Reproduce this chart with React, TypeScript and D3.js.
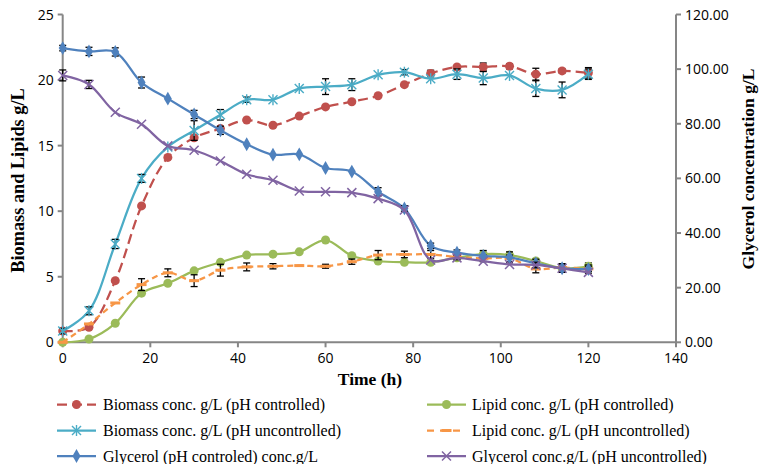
import React from "react";
import * as d3 from "d3";

const times = [0, 6, 12, 18, 24, 30, 36, 42, 48, 54, 60, 66, 72, 78, 84, 90, 96, 102, 108, 114, 120];

const biomassCtrl = [0.86, 1.15, 4.7, 10.4, 14.1, 15.6, 16.3, 16.95, 16.55, 17.25, 17.95, 18.35, 18.8, 19.65, 20.5, 21.0, 21.0, 21.05, 20.45, 20.7, 20.55];
const biomassCtrlErr = [0, 0, 0, 0, 0, 0, 0, 0, 0, 0, 0, 0, 0, 0, 0.25, 0, 0.3, 0.2, 0.45, 0.15, 0.4];

const lipidCtrl = [0, 0.25, 1.45, 3.75, 4.5, 5.45, 6.1, 6.65, 6.72, 6.9, 7.8, 6.6, 6.2, 6.1, 6.1, 6.45, 6.72, 6.65, 6.2, 5.65, 5.8];
const lipidCtrlErr = [0, 0, 0, 0, 0, 0, 0, 0, 0, 0, 0, 0, 0, 0, 0, 0, 0, 0, 0, 0, 0.25];

const biomassUnctrl = [0.86, 2.4, 7.5, 12.5, 14.9, 16.15, 17.35, 18.5, 18.5, 19.35, 19.5, 19.65, 20.4, 20.6, 20.1, 20.45, 20.15, 20.35, 19.35, 19.25, 20.45];
const biomassUnctrlErr = [0.2, 0.3, 0.35, 0.3, 0, 0.75, 0.4, 0.2, 0, 0, 0.6, 0.45, 0, 0.2, 0, 0.4, 0.5, 0, 0.6, 0.6, 0.4];

const lipidUnctrl = [0, 1.4, 3.0, 4.4, 5.3, 4.7, 5.5, 5.75, 5.8, 5.85, 5.8, 6.15, 6.65, 6.7, 6.7, 6.5, 6.4, 6.4, 5.6, 5.7, 5.6];
const lipidUnctrlErr = [0, 0, 0, 0.45, 0.3, 0.45, 0.45, 0.3, 0.2, 0, 0.15, 0.2, 0.35, 0.25, 0.3, 0.2, 0.25, 0.25, 0.3, 0.3, 0.2];

const glycerolCtrl = [107.7, 106.5, 106.3, 95.1, 89.2, 83.4, 77.6, 72.5, 68.7, 68.8, 63.8, 62.5, 55.1, 49.0, 35.3, 32.8, 31.6, 31.1, 28.9, 27.1, 26.8];
const glycerolCtrlErr = [1, 1.5, 1.5, 2, 0, 1.5, 1.5, 0, 0, 0, 0, 0, 1.5, 1, 1, 1, 2, 2, 1.5, 1.5, 1.5];

const glycerolUnctrl = [97.7, 94.4, 84.2, 79.8, 71.9, 70.3, 66.4, 61.5, 59.3, 55.4, 55.1, 54.8, 52.6, 48.4, 30.1, 30.9, 29.7, 28.5, 28.3, 27.1, 25.6];
const glycerolUnctrlErr = [2, 1.5, 0, 0, 0, 0, 0, 0, 0, 0, 0, 0, 0, 0, 0, 0, 0, 0, 1, 0, 0];

const xTicks = [0, 20, 40, 60, 80, 100, 120, 140];
const yLeftTicks = [0, 5, 10, 15, 20, 25];
const yRightTicks = [0, 20, 40, 60, 80, 100, 120];

const legendLabels = [
  "Biomass conc. g/L (pH controlled)",
  "Lipid conc. g/L (pH controlled)",
  "Biomass conc. g/L (pH uncontrolled)",
  "Lipid conc. g/L (pH uncontrolled)",
  "Glycerol (pH controled) conc.g/L",
  "Glycerol conc.g/L (pH uncontrolled)",
];

const AX = "#868686";
const left = 62.7, right = 676, top = 14.5, bottom = 342.3;

const x = d3.scaleLinear().domain([0, 140]).range([left, right]);
const yL = d3.scaleLinear().domain([0, 25]).range([bottom, top]);
const yR = d3.scaleLinear().domain([0, 120]).range([bottom, top]);

type Marker = "circle" | "diamond" | "star" | "x" | "dash";
interface Series { vals: number[]; err: number[]; color: string; dash?: string; marker: Marker; axis: "L" | "R"; label: string; }

const series: Series[] = [
  { vals: biomassCtrl, err: biomassCtrlErr, color: "#C0504D", dash: "10,5", marker: "circle", axis: "L", label: legendLabels[0] },
  { vals: lipidCtrl, err: lipidCtrlErr, color: "#9BBB59", marker: "circle", axis: "L", label: legendLabels[1] },
  { vals: biomassUnctrl, err: biomassUnctrlErr, color: "#4BACC6", marker: "star", axis: "L", label: legendLabels[2] },
  { vals: lipidUnctrl, err: lipidUnctrlErr, color: "#F79646", dash: "6,4", marker: "dash", axis: "L", label: legendLabels[3] },
  { vals: glycerolCtrl, err: glycerolCtrlErr, color: "#4F81BD", marker: "diamond", axis: "R", label: legendLabels[4] },
  { vals: glycerolUnctrl, err: glycerolUnctrlErr, color: "#8064A2", marker: "x", axis: "R", label: legendLabels[5] },
];

function MarkerShape({ m, cx, cy, color }: { m: Marker; cx: number; cy: number; color: string }) {
  if (m === "circle") return <circle cx={cx} cy={cy} r={4.5} fill={color} />;
  if (m === "diamond") return <path d={d3.symbol(d3.symbolDiamond, 55)() || ""} transform={`translate(${cx},${cy})`} fill={color} />;
  if (m === "dash") return <rect x={cx - 5} y={cy - 1.5} width={10} height={3} fill={color} />;
  const s = 4.5;
  if (m === "x")
    return (
      <g stroke={color} strokeWidth={1.5}>
        <line x1={cx - s} y1={cy - s} x2={cx + s} y2={cy + s} />
        <line x1={cx - s} y1={cy + s} x2={cx + s} y2={cy - s} />
      </g>
    );
  return (
    <g stroke={color} strokeWidth={1.4}>
      <line x1={cx - s} y1={cy - s} x2={cx + s} y2={cy + s} />
      <line x1={cx - s} y1={cy + s} x2={cx + s} y2={cy - s} />
      <line x1={cx} y1={cy - s - 1} x2={cx} y2={cy + s + 1} />
    </g>
  );
}

export default function App() {
  const serif = "'Liberation Serif', 'Times New Roman', serif";
  const sans = "'Open Sans', sans-serif";
  const legendPos = [
    { lx: 57, tx: 103, y: 404.5 },
    { lx: 427, tx: 472, y: 404.5 },
    { lx: 57, tx: 103, y: 430.5 },
    { lx: 427, tx: 472, y: 430.5 },
    { lx: 57, tx: 103, y: 456 },
    { lx: 427, tx: 472, y: 456 },
  ];
  return (
    <svg width={759} height={464} style={{ position: "absolute", left: 0, top: 0, background: "#fff" }}>
      {/* axes */}
      <g stroke={AX} strokeWidth={2} fill="none">
        <line x1={left} y1={top} x2={left} y2={bottom} />
        <line x1={right} y1={top} x2={right} y2={bottom} />
        <line x1={left} y1={bottom} x2={right} y2={bottom} />
        {yLeftTicks.map((t) => (
          <line key={"l" + t} x1={left - 5} x2={left} y1={yL(t)} y2={yL(t)} />
        ))}
        {yRightTicks.map((t) => (
          <line key={"r" + t} x1={right} x2={right + 5} y1={yR(t)} y2={yR(t)} />
        ))}
        {xTicks.map((t) => (
          <line key={"x" + t} x1={x(t)} x2={x(t)} y1={bottom} y2={bottom + 5} />
        ))}
      </g>
      <g fontFamily={sans} fontSize={14} fill="#000">
        {yLeftTicks.map((t) => (
          <text key={t} x={left - 9} y={yL(t) + 5} textAnchor="end">{t}</text>
        ))}
        {yRightTicks.map((t) => (
          <text key={t} x={right + 9} y={yR(t) + 5}>{t.toFixed(2)}</text>
        ))}
        {xTicks.map((t) => (
          <text key={t} x={x(t)} y={362.5} textAnchor="middle">{t}</text>
        ))}
      </g>
      <g fontFamily={serif} fontWeight="bold" fontSize={17.5} fill="#000">
        <text x={370} y={384.5} textAnchor="middle">Time (h)</text>
        <text transform={`translate(24,180.5) rotate(-90)`} textAnchor="middle" fontSize={18.3}>Biomass and Lipids g/L</text>
        <text transform={`translate(753.5,169) rotate(-90)`} textAnchor="middle">Glycerol concentration g/L</text>
      </g>
      {/* series */}
      {series.map((s, si) => {
        const ys = s.axis === "L" ? yL : yR;
        const line = d3
          .line<number>()
          .x((_, i) => x(times[i]))
          .y((v) => ys(v))
          .curve(d3.curveCatmullRom.alpha(0.5));
        return (
          <g key={si}>
            <path d={line(s.vals) || ""} fill="none" stroke={s.color} strokeWidth={2.25} strokeDasharray={s.dash} />
            <g stroke="#000" strokeWidth={1.3}>
              {s.vals.map((v, i) =>
                s.err[i] > 0 ? (
                  <g key={i}>
                    <line x1={x(times[i])} x2={x(times[i])} y1={ys(v - s.err[i])} y2={ys(v + s.err[i])} />
                    <line x1={x(times[i]) - 3.5} x2={x(times[i]) + 3.5} y1={ys(v - s.err[i])} y2={ys(v - s.err[i])} />
                    <line x1={x(times[i]) - 3.5} x2={x(times[i]) + 3.5} y1={ys(v + s.err[i])} y2={ys(v + s.err[i])} />
                  </g>
                ) : null
              )}
            </g>
            {s.vals.map((v, i) => (
              <MarkerShape key={i} m={s.marker} cx={x(times[i])} cy={ys(v)} color={s.color} />
            ))}
          </g>
        );
      })}
      {/* legend */}
      {series.map((s, i) => {
        const p = legendPos[i];
        return (
          <g key={"lg" + i}>
            <line x1={p.lx} x2={p.lx + 39} y1={p.y} y2={p.y} stroke={s.color} strokeWidth={2.25} strokeDasharray={s.dash ? (s.marker === "dash" ? "7,6" : "10,5") : undefined} />
            <MarkerShape m={s.marker} cx={p.lx + 19.5} cy={p.y} color={s.color} />
            <text x={p.tx} y={p.y + 5.5} fontFamily={serif} fontSize={16} fill="#000">{s.label}</text>
          </g>
        );
      })}
    </svg>
  );
}
